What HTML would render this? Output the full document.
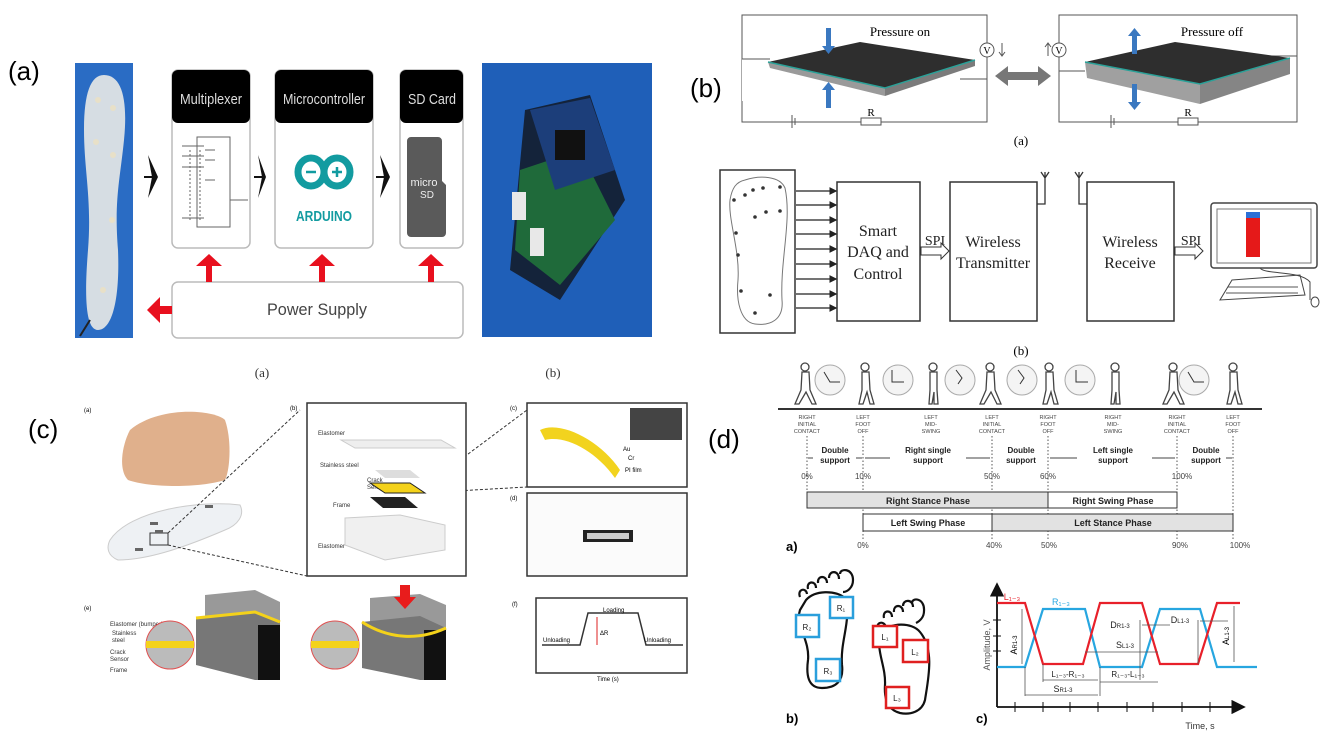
<!DOCTYPE html>
<html><head><meta charset="utf-8"><style>
html,body{margin:0;padding:0;background:#fff;}
svg{display:block;font-family:"Liberation Sans",sans-serif;}
.s{font-family:"Liberation Serif",serif;}
</style></head><body>
<svg width="1325" height="737" viewBox="0 0 1325 737" xmlns="http://www.w3.org/2000/svg">
<defs>
<marker id="ah" markerWidth="6" markerHeight="6" refX="5" refY="3" orient="auto"><path d="M0,0 L6,3 L0,6 z" fill="#222"/></marker>
<marker id="ahb" markerWidth="8" markerHeight="8" refX="7" refY="4" orient="auto"><path d="M0,0 L8,4 L0,8 z" fill="#111"/></marker>
</defs>

<!-- ===== (a) ===== -->
<text x="8" y="80" font-size="26">(a)</text>
<rect x="75" y="63" width="58" height="275" fill="#2a6cc4"/>
<path d="M104,75 C122,75 128,100 124,140 C120,180 114,200 118,250 C120,300 112,330 98,330 C86,330 84,300 88,250 C92,200 84,170 84,130 C84,95 90,75 104,75 z" fill="#d6dde3"/>
<g fill="#e8e0c8"><circle cx="98" cy="100" r="3"/><circle cx="113" cy="108" r="3"/><circle cx="96" cy="142" r="3"/><circle cx="113" cy="155" r="3"/><circle cx="112" cy="220" r="3"/><circle cx="103" cy="290" r="3"/></g>
<path d="M90,320 L80,336" stroke="#222" stroke-width="2"/>
<!-- arrows black -->
<g fill="#111"><path d="M148,155 L158,177 L148,198 L152,177 z"/><path d="M258,155 L266,177 L258,198 L262,177 z"/><path d="M380,155 L390,177 L380,198 L384,177 z"/></g>
<g stroke="#111" stroke-width="2"><line x1="144" y1="177" x2="156" y2="177"/><line x1="254" y1="177" x2="264" y2="177"/><line x1="376" y1="177" x2="388" y2="177"/></g>
<!-- boxes -->
<g stroke="#bbb" stroke-width="1.5" fill="#fff">
<rect x="172" y="70" width="78" height="178" rx="6"/>
<rect x="275" y="70" width="98" height="178" rx="6"/>
<rect x="400" y="70" width="63" height="178" rx="6"/>
<rect x="172" y="282" width="291" height="56" rx="6"/>
</g>
<g fill="#000"><rect x="172" y="70" width="78" height="53" rx="6"/><rect x="275" y="70" width="98" height="53" rx="6"/><rect x="400" y="70" width="63" height="53" rx="6"/></g>
<g fill="#ddd" font-size="15" text-anchor="middle"><text x="211" y="104" textLength="62" lengthAdjust="spacingAndGlyphs">Multiplexer</text><text x="324" y="104" textLength="82" lengthAdjust="spacingAndGlyphs">Microcontroller</text><text x="432" y="104" textLength="48" lengthAdjust="spacingAndGlyphs">SD Card</text></g>
<!-- mux drawing -->
<g stroke="#666" stroke-width="1" fill="none"><rect x="197" y="137" width="33" height="90"/><path d="M182,146h22M182,156h22M182,167h22M182,218h22M205,150h10M205,160h10M205,180h10M230,200h18" stroke-dasharray="0"/><path d="M190,150v70M200,150v70" stroke-dasharray="2,2"/></g>
<!-- arduino -->
<g stroke="#129ba0" stroke-width="7" fill="none"><ellipse cx="311" cy="172" rx="13" ry="14"/><ellipse cx="337" cy="172" rx="13" ry="14"/></g>
<g stroke="#129ba0" stroke-width="2.5"><line x1="306" y1="172" x2="316" y2="172"/><line x1="332" y1="172" x2="342" y2="172"/><line x1="337" y1="167" x2="337" y2="177"/></g>
<text x="324" y="221" font-size="15" font-weight="bold" fill="#129ba0" text-anchor="middle" textLength="56" lengthAdjust="spacingAndGlyphs">ARDUINO</text>
<!-- sd -->
<path d="M411,137 h27 a4,4 0 0 1 4,4 v40 l4,4 v48 a4,4 0 0 1 -4,4 h-31 a4,4 0 0 1 -4,-4 v-92 a4,4 0 0 1 4,-4z" fill="#5a5a5a"/>
<text x="424" y="186" font-size="11" fill="#eee" text-anchor="middle">micro</text><text x="427" y="198" font-size="10" fill="#eee" text-anchor="middle">SD</text>
<text x="317" y="315" font-size="17" fill="#444" text-anchor="middle" textLength="100" lengthAdjust="spacingAndGlyphs">Power Supply</text>
<!-- red arrows -->
<g fill="#e8101e"><path d="M196,266 L209,254 L222,266 L212,266 L212,282 L206,282 L206,266z"/><path d="M309,266 L322,254 L335,266 L325,266 L325,282 L319,282 L319,266z"/><path d="M418,266 L431,254 L444,266 L434,266 L434,282 L428,282 L428,266z"/><path d="M147,310 L160,297 L160,306 L172,306 L172,314 L160,314 L160,323z"/></g>
<text x="262" y="377" class="s" font-size="13" fill="#333" text-anchor="middle">(a)</text>
<!-- board photo -->
<rect x="482" y="63" width="170" height="274" fill="#1f5fb8"/>
<path d="M525,110 L590,95 L625,200 L560,300 L510,270 Z" fill="#14233a"/>
<path d="M520,170 L580,150 L615,220 L560,285 L515,250 Z" fill="#1f6a3a"/>
<path d="M530,110 L590,98 L615,170 L555,190 Z" fill="#1c3e7a"/>
<rect x="555" y="130" width="30" height="30" fill="#111"/>
<rect x="512" y="192" width="14" height="28" fill="#e8e8e8"/><rect x="530" y="228" width="14" height="28" fill="#e8e8e8"/>
<text x="553" y="377" class="s" font-size="13" fill="#333" text-anchor="middle">(b)</text>

<!-- ===== (b) ===== -->
<text x="690" y="97" font-size="26">(b)</text>
<g stroke="#555" stroke-width="1" fill="none">
<rect x="742" y="15" width="245" height="107"/>
<rect x="1059" y="15" width="238" height="107"/>
</g>
<rect x="742" y="59" width="42" height="42" fill="#fff"/>
<line x1="742" y1="59" x2="770" y2="59" stroke="#555"/><line x1="960" y1="79" x2="987" y2="79" stroke="#555"/>
<line x1="1059" y1="71" x2="1085" y2="71" stroke="#555"/><line x1="1270" y1="56" x2="1297" y2="56" stroke="#555"/>
<path d="M768,62 L860,42 L975,60 L885,88 Z" fill="#2e2e2e"/>
<path d="M768,62 L885,88 L885,96 L770,68 Z" fill="#9a9a9a"/>
<path d="M885,88 L975,60 L975,66 L885,96 Z" fill="#7b7b7b"/>
<path d="M768,62 L885,88 L975,60" stroke="#2aa198" stroke-width="1.5" fill="none"/>
<path d="M1085,62 L1175,42 L1290,58 L1200,84 Z" fill="#2e2e2e"/>
<path d="M1085,62 L1200,84 L1200,104 L1087,78 Z" fill="#a0a0a0"/>
<path d="M1200,84 L1290,58 L1290,74 L1200,104 Z" fill="#858585"/>
<path d="M1085,62 L1200,84 L1290,58" stroke="#2aa198" stroke-width="1.5" fill="none"/>
<g fill="#3a78c0"><rect x="826" y="28" width="5" height="20"/><path d="M822,46 h13 l-6.5,8z"/><rect x="826" y="88" width="5" height="20"/><path d="M822,90 h13 l-6.5,-8z"/>
<rect x="1132" y="34" width="5" height="20"/><path d="M1128,36 h13 l-6.5,-8z"/><rect x="1132" y="84" width="5" height="20"/><path d="M1128,102 h13 l-6.5,8z"/></g>
<path d="M995,76 L1008,66 L1008,72 L1038,72 L1038,66 L1051,76 L1038,86 L1038,80 L1008,80 L1008,86 Z" fill="#777"/>
<circle cx="987" cy="50" r="7" fill="#fff" stroke="#555"/><text x="987" y="54" class="s" font-size="10" text-anchor="middle">V</text>
<circle cx="1059" cy="50" r="7" fill="#fff" stroke="#555"/><text x="1059" y="54" class="s" font-size="10" text-anchor="middle">V</text>
<path d="M1002,43 v12 M999,52 l3,4 l3,-4" stroke="#555" fill="none"/><path d="M1048,44 v12 M1045,47 l3,-4 l3,4" stroke="#555" fill="none"/>
<g stroke="#555"><line x1="792" y1="115" x2="792" y2="128"/><line x1="795" y1="118" x2="795" y2="125"/><line x1="1111" y1="115" x2="1111" y2="128"/><line x1="1114" y1="118" x2="1114" y2="125"/></g>
<rect x="861" y="118" width="20" height="7" fill="#fff" stroke="#555"/><rect x="1178" y="118" width="20" height="7" fill="#fff" stroke="#555"/>
<text x="871" y="116" class="s" font-size="11" text-anchor="middle">R</text><text x="1188" y="116" class="s" font-size="11" text-anchor="middle">R</text>
<text x="900" y="36" class="s" font-size="13" text-anchor="middle">Pressure on</text><text x="1212" y="36" class="s" font-size="13" text-anchor="middle">Pressure off</text>
<text x="1021" y="145" class="s" font-size="13" text-anchor="middle">(a)</text>
<!-- block diagram -->
<g stroke="#333" stroke-width="1.5" fill="#fff">
<rect x="720" y="170" width="75" height="163"/>
<rect x="837" y="182" width="83" height="139"/>
<rect x="950" y="182" width="87" height="139"/>
<rect x="1087" y="182" width="87" height="139"/>
</g>
<path d="M745,180 C760,175 780,176 785,188 C792,220 780,260 782,300 C784,320 770,326 755,324 C740,322 736,300 738,280 C740,250 728,220 730,200 C732,188 736,182 745,180z" fill="none" stroke="#777"/>
<g fill="#333"><circle cx="734" cy="200" r="1.8"/><circle cx="745" cy="195" r="1.8"/><circle cx="753" cy="190" r="1.8"/><circle cx="763" cy="188" r="1.8"/><circle cx="780" cy="187" r="1.8"/><circle cx="755" cy="217" r="1.8"/><circle cx="766" cy="212" r="1.8"/><circle cx="780" cy="211" r="1.8"/><circle cx="736" cy="233" r="1.8"/><circle cx="738" cy="255" r="1.8"/><circle cx="741" cy="291" r="1.8"/><circle cx="770" cy="295" r="1.8"/><circle cx="755" cy="313" r="1.8"/></g>
<g stroke="#222" stroke-width="1.3" marker-end="url(#ah)">
<line x1="796" y1="191" x2="836" y2="191"/><line x1="796" y1="205" x2="836" y2="205"/><line x1="796" y1="220" x2="836" y2="220"/><line x1="796" y1="234" x2="836" y2="234"/><line x1="796" y1="249" x2="836" y2="249"/><line x1="796" y1="264" x2="836" y2="264"/><line x1="796" y1="279" x2="836" y2="279"/><line x1="796" y1="294" x2="836" y2="294"/><line x1="796" y1="308" x2="836" y2="308"/>
</g>
<g class="s" font-size="16" text-anchor="middle" fill="#222">
<text x="878" y="236">Smart</text><text x="878" y="257">DAQ and</text><text x="878" y="279">Control</text>
<text x="993" y="247">Wireless</text><text x="993" y="268">Transmitter</text>
<text x="1130" y="247">Wireless</text><text x="1130" y="268">Receive</text>
<text x="935" y="245" font-size="14">SPI</text><text x="1191" y="245" font-size="14">SPI</text>
</g>
<path d="M921,247 h20 v-4 l8,8 l-8,8 v-4 h-20z" fill="#fff" stroke="#333"/>
<path d="M1175,247 h20 v-4 l8,8 l-8,8 v-4 h-20z" fill="#fff" stroke="#333"/>
<path d="M1037,204 h8 v-28 M1041,172 l4,6 l4,-6 M1045,172 v6" stroke="#333" fill="none" stroke-width="1.3"/>
<path d="M1087,204 h-8 v-28 M1075,172 l4,6 l4,-6 M1079,172 v6" stroke="#333" fill="none" stroke-width="1.3"/>
<rect x="1211" y="203" width="106" height="65" rx="3" fill="#fff" stroke="#444" stroke-width="1.5"/>
<rect x="1217" y="209" width="94" height="54" fill="#fff" stroke="#777"/>
<path d="M1246,212 h14 v45 h-14 z" fill="#e51919"/><rect x="1246" y="212" width="14" height="6" fill="#2b6fd6"/>
<path d="M1232,280 L1300,275 L1305,295 L1220,300 Z" fill="#fff" stroke="#444"/>
<path d="M1228,287 h70 M1226,293 h72" stroke="#555"/>
<path d="M1260,268 C1265,275 1300,270 1310,282 L1310,300" stroke="#444" fill="none"/>
<ellipse cx="1315" cy="302" rx="4" ry="5" fill="#fff" stroke="#444"/>
<text x="1021" y="355" class="s" font-size="13" text-anchor="middle">(b)</text>

<!-- ===== (c) ===== -->
<text x="28" y="438" font-size="26">(c)</text>
<text x="84" y="412" font-size="6">(a)</text>
<path d="M130,430 C160,405 215,410 225,420 C232,440 230,470 225,480 C200,488 150,488 128,480 C118,470 122,445 130,430z" fill="#e0b08c"/>
<path d="M110,540 C130,510 200,500 240,505 C245,515 238,525 225,530 C190,545 150,560 118,560 C108,556 106,548 110,540z" fill="#eef1f4" stroke="#ccc"/>
<rect x="150" y="533" width="18" height="12" fill="none" stroke="#333"/>
<g fill="#666"><rect x="150" y="522" width="8" height="3"/><rect x="135" y="548" width="8" height="3"/><rect x="205" y="505" width="8" height="3"/><rect x="155" y="530" width="8" height="3"/></g>
<g stroke="#333" stroke-dasharray="3,2" fill="none"><line x1="168" y1="533" x2="300" y2="410"/><line x1="168" y1="545" x2="307" y2="576"/><line x1="420" y1="490" x2="527" y2="410"/><line x1="420" y1="493" x2="527" y2="487"/></g>
<rect x="307" y="403" width="159" height="173" fill="#fff" stroke="#333" stroke-width="1.5"/>
<text x="290" y="410" font-size="6">(b)</text><text x="510" y="410" font-size="6">(c)</text><text x="510" y="500" font-size="6">(d)</text>
<g font-size="6" fill="#333"><text x="318" y="435">Elastomer</text><text x="320" y="467">Stainless steel</text><text x="367" y="482">Crack</text><text x="367" y="489">Sensor</text><text x="333" y="507">Frame</text><text x="318" y="548">Elastomer</text></g>
<path d="M341,440 L441,440 L455,448 L355,448 Z" fill="#eee" stroke="#ccc"/>
<path d="M375,470 L410,470 L420,478 L385,478 Z" fill="#ddd"/>
<path d="M370,483 L410,483 L425,493 L385,493 Z" fill="#f4d21a" stroke="#222"/>
<path d="M370,497 L405,497 L418,508 L383,508 Z" fill="#222"/>
<path d="M345,518 L400,515 L445,525 L445,550 L385,560 L345,545 Z" fill="#f0f0f0" stroke="#ccc"/>
<rect x="527" y="403" width="160" height="84" fill="#fff" stroke="#333" stroke-width="1.5"/>
<rect x="630" y="408" width="52" height="32" fill="#444"/>
<path d="M540,430 C560,420 600,440 620,470 L615,478 C595,450 565,435 545,440 Z" fill="#f2d31e"/>
<g font-size="6"><text x="623" y="451">Au</text><text x="628" y="460">Cr</text><text x="625" y="472">PI film</text></g>
<rect x="527" y="493" width="160" height="83" fill="#fbfbfb" stroke="#333" stroke-width="1.5"/>
<rect x="583" y="530" width="50" height="12" fill="#222"/><rect x="587" y="533" width="42" height="6" fill="#ccc"/>
<text x="84" y="610" font-size="6">(e)</text>
<g font-size="6" fill="#333"><text x="110" y="626">Elastomer (bumper)</text><text x="112" y="635">Stainless</text><text x="112" y="642">steel</text><text x="110" y="654">Crack</text><text x="110" y="661">Sensor</text><text x="110" y="672">Frame</text></g>
<path d="M205,595 L255,590 L280,602 L280,628 L230,633 L205,620 Z" fill="#999"/>
<path d="M196,618 L255,612 L280,622 L280,680 L255,680 L196,665 Z" fill="#777"/>
<rect x="258" y="625" width="22" height="55" fill="#111"/>
<path d="M196,618 L255,612 L280,622" stroke="#f4d21a" stroke-width="3" fill="none"/>
<circle cx="170" cy="645" r="24" fill="#bbb" stroke="#e05050"/><rect x="146" y="641" width="48" height="7" fill="#f4d21a"/>
<path d="M370,598 L420,594 L446,605 L446,630 L395,640 L370,625 Z" fill="#999"/>
<path d="M362,622 L420,616 L446,628 L446,680 L420,680 L362,668 Z" fill="#777"/>
<rect x="424" y="630" width="22" height="50" fill="#111"/>
<path d="M362,622 C390,640 420,640 446,628" stroke="#f4d21a" stroke-width="3" fill="none"/>
<path d="M400,585 h10 v12 h6 l-11,12 l-11,-12 h6 z" fill="#e81c1c"/>
<circle cx="335" cy="645" r="24" fill="#bbb" stroke="#e05050"/><rect x="311" y="641" width="48" height="7" fill="#f4d21a"/>
<text x="512" y="606" font-size="6">(f)</text>
<rect x="536" y="598" width="151" height="75" fill="#fff" stroke="#333" stroke-width="1.5"/>
<path d="M542,645 h38 l8,-32 h50 l8,32 h37" stroke="#333" stroke-width="1.5" fill="none"/>
<line x1="597" y1="617" x2="597" y2="645" stroke="#d22" stroke-width="1"/>
<g font-size="6"><text x="543" y="642">Unloading</text><text x="644" y="642">Unloading</text><text x="603" y="612">Loading</text><text x="600" y="635">ΔR</text><text x="597" y="681">Time (s)</text></g>

<!-- ===== (d) ===== -->
<text x="708" y="448" font-size="26">(d)</text>
<line x1="778" y1="409" x2="1262" y2="409" stroke="#333" stroke-width="2"/>
<!-- people -->
<g fill="#fff" stroke="#444" stroke-width="1.3">
<g transform="translate(800,362)"><circle cx="5" cy="5" r="4"/><path d="M2,10 h7 l1,18 l6,14 h-4 l-6,-12 l-7,12 h-4 l6,-14z"/></g>
<g transform="translate(860,362)"><circle cx="5" cy="5" r="4"/><path d="M2,10 h7 l1,18 l4,14 h-4 l-3,-12 l-4,12 h-4 l3,-14z"/></g>
<g transform="translate(928,362)"><circle cx="5" cy="5" r="4"/><path d="M2,10 h7 l0,18 l1,14 h-4 l0,-12 l-2,12 h-3 l1,-14z"/></g>
<g transform="translate(985,362)"><circle cx="5" cy="5" r="4"/><path d="M2,10 h7 l1,18 l6,14 h-4 l-6,-12 l-7,12 h-4 l6,-14z"/></g>
<g transform="translate(1044,362)"><circle cx="5" cy="5" r="4"/><path d="M2,10 h7 l1,18 l4,14 h-4 l-3,-12 l-4,12 h-4 l3,-14z"/></g>
<g transform="translate(1110,362)"><circle cx="5" cy="5" r="4"/><path d="M2,10 h7 l0,18 l1,14 h-4 l0,-12 l-2,12 h-3 l1,-14z"/></g>
<g transform="translate(1168,362)"><circle cx="5" cy="5" r="4"/><path d="M2,10 h7 l1,18 l6,14 h-4 l-6,-12 l-7,12 h-4 l6,-14z"/></g>
<g transform="translate(1228,362)"><circle cx="5" cy="5" r="4"/><path d="M2,10 h7 l1,18 l4,14 h-4 l-3,-12 l-4,12 h-4 l3,-14z"/></g>
</g>
<g fill="#f4f4f4" stroke="#aaa"><circle cx="830" cy="380" r="15"/><circle cx="898" cy="380" r="15"/><circle cx="960" cy="380" r="15"/><circle cx="1022" cy="380" r="15"/><circle cx="1080" cy="380" r="15"/><circle cx="1194" cy="380" r="15"/></g>
<g stroke="#333" fill="none"><path d="M824,372 l6,10 h10"/><path d="M892,370 v12 h12"/><path d="M956,370 l6,8 l-4,6"/><path d="M1018,370 l6,8 l-4,6"/><path d="M1076,370 v12 h12"/><path d="M1188,372 l6,10 h10"/></g>
<g font-size="5.5" fill="#444" text-anchor="middle">
<text x="807" y="419">RIGHT</text><text x="807" y="426">INITIAL</text><text x="807" y="433">CONTACT</text>
<text x="863" y="419">LEFT</text><text x="863" y="426">FOOT</text><text x="863" y="433">OFF</text>
<text x="931" y="419">LEFT</text><text x="931" y="426">MID-</text><text x="931" y="433">SWING</text>
<text x="992" y="419">LEFT</text><text x="992" y="426">INITIAL</text><text x="992" y="433">CONTACT</text>
<text x="1048" y="419">RIGHT</text><text x="1048" y="426">FOOT</text><text x="1048" y="433">OFF</text>
<text x="1113" y="419">RIGHT</text><text x="1113" y="426">MID-</text><text x="1113" y="433">SWING</text>
<text x="1177" y="419">RIGHT</text><text x="1177" y="426">INITIAL</text><text x="1177" y="433">CONTACT</text>
<text x="1233" y="419">LEFT</text><text x="1233" y="426">FOOT</text><text x="1233" y="433">OFF</text>
</g>
<g stroke="#555" stroke-dasharray="1.5,2"><line x1="807" y1="436" x2="807" y2="492"/><line x1="863" y1="436" x2="863" y2="540"/><line x1="992" y1="436" x2="992" y2="540"/><line x1="1048" y1="436" x2="1048" y2="540"/><line x1="1177" y1="436" x2="1177" y2="540"/><line x1="1233" y1="436" x2="1233" y2="540"/></g>
<g font-size="8" font-weight="bold" text-anchor="middle" fill="#222">
<text x="835" y="453">Double</text><text x="835" y="463">support</text>
<text x="928" y="453">Right single</text><text x="928" y="463">support</text>
<text x="1021" y="453">Double</text><text x="1021" y="463">support</text>
<text x="1113" y="453">Left single</text><text x="1113" y="463">support</text>
<text x="1206" y="453">Double</text><text x="1206" y="463">support</text>
</g>
<g stroke="#444" stroke-width="1"><line x1="808" y1="458" x2="813" y2="458"/><line x1="856" y1="458" x2="862" y2="458"/><line x1="865" y1="458" x2="890" y2="458"/><line x1="966" y1="458" x2="990" y2="458"/><line x1="1050" y1="458" x2="1077" y2="458"/><line x1="1152" y1="458" x2="1175" y2="458"/><line x1="1226" y1="458" x2="1232" y2="458"/></g>
<g font-size="8" fill="#444" text-anchor="middle"><text x="807" y="479">0%</text><text x="863" y="479">10%</text><text x="992" y="479">50%</text><text x="1048" y="479">60%</text><text x="1182" y="479">100%</text>
<text x="863" y="548">0%</text><text x="994" y="548">40%</text><text x="1049" y="548">50%</text><text x="1180" y="548">90%</text><text x="1240" y="548">100%</text></g>
<g stroke="#333" stroke-width="1">
<rect x="807" y="492" width="241" height="16" fill="#e2e2e2"/>
<rect x="1048" y="492" width="129" height="16" fill="#fff"/>
<rect x="863" y="514" width="129" height="17" fill="#fff"/>
<rect x="992" y="514" width="241" height="17" fill="#e2e2e2"/>
</g>
<g font-size="9" font-weight="bold" text-anchor="middle" fill="#222"><text x="928" y="504">Right Stance Phase</text><text x="1113" y="504">Right Swing Phase</text><text x="928" y="526">Left Swing Phase</text><text x="1113" y="526">Left Stance Phase</text></g>
<text x="786" y="551" font-size="13" font-weight="bold">a)</text>
<!-- feet -->
<g stroke="#111" stroke-width="2.2" fill="none">
<path d="M806,600 C815,590 835,590 845,598 C852,620 840,640 842,665 C844,682 835,688 822,688 C808,688 806,675 808,660 C810,640 795,625 800,610 Z"/>
<path d="M800,597 c-3,-8 6,-10 7,-3 M808,589 c-2,-8 8,-9 8,-1 M818,583 c-1,-8 9,-8 9,0 M829,578 c0,-8 10,-8 10,1 M840,574 c0,-6 13,-6 13,6 c0,8 -6,12 -10,12"/>
<path d="M881,633 C890,622 912,622 920,632 C935,650 928,680 925,700 C922,712 910,715 900,713 C888,710 884,700 885,685 C886,665 875,650 881,633 Z"/>
<path d="M878,630 c-3,-8 6,-10 8,-3 M884,618 c-2,-8 8,-9 8,-1 M894,612 c-1,-8 9,-8 9,0 M903,606 c0,-7 10,-7 10,1 M912,603 c0,-6 13,-5 12,8 c0,6 -4,10 -8,12"/>
</g>
<g fill="#fff" stroke="#2a9fdc" stroke-width="2.5"><rect x="830" y="597" width="23" height="21"/><rect x="796" y="615" width="23" height="22"/><rect x="816" y="659" width="24" height="22"/></g>
<g fill="#fff" stroke="#e02020" stroke-width="2.5"><rect x="873" y="626" width="24" height="21"/><rect x="903" y="640" width="25" height="22"/><rect x="886" y="687" width="23" height="21"/></g>
<g font-size="8" text-anchor="middle" fill="#222"><text x="841" y="611">R₁</text><text x="807" y="630">R₂</text><text x="828" y="674">R₃</text><text x="885" y="640">L₁</text><text x="915" y="655">L₂</text><text x="897" y="701">L₃</text></g>
<text x="786" y="723" font-size="13" font-weight="bold">b)</text>
<!-- chart -->
<g stroke="#111" stroke-width="1.8" fill="none"><line x1="997" y1="707" x2="997" y2="584" marker-end="url(#ahb)"/><line x1="997" y1="707" x2="1244" y2="707" marker-end="url(#ahb)"/></g>
<g stroke="#111" stroke-width="1"><line x1="1015" y1="702" x2="1015" y2="712"/><line x1="1043" y1="702" x2="1043" y2="712"/><line x1="1070" y1="702" x2="1070" y2="712"/><line x1="1098" y1="702" x2="1098" y2="712"/><line x1="1127" y1="702" x2="1127" y2="712"/><line x1="1153" y1="702" x2="1153" y2="712"/><line x1="1182" y1="702" x2="1182" y2="712"/><line x1="1210" y1="702" x2="1210" y2="712"/>
<line x1="993" y1="620" x2="1001" y2="620"/><line x1="993" y1="636" x2="1001" y2="636"/><line x1="993" y1="651" x2="1001" y2="651"/></g>
<polyline points="997,667 1025,667 1043,609 1085,609 1100,667 1142,667 1160,609 1200,609 1217,667 1257,667" fill="none" stroke="#27a6e0" stroke-width="2.2"/>
<polyline points="997,603 1025,603 1043,664 1083,664 1100,603 1142,603 1160,664 1198,664 1217,603 1240,603" fill="none" stroke="#e8202a" stroke-width="2.2"/>
<g stroke="#555" stroke-width="0.8" fill="none">
<line x1="1022" y1="609" x2="1022" y2="664"/><line x1="1025" y1="667" x2="1025" y2="696"/><line x1="1100" y1="667" x2="1100" y2="696"/><line x1="1043" y1="664" x2="1043" y2="682"/><line x1="1100" y1="682" x2="1158" y2="682"/>
<line x1="1043" y1="680" x2="1098" y2="680"/><line x1="1025" y1="695" x2="1098" y2="695"/><line x1="1085" y1="652" x2="1158" y2="652"/><line x1="1142" y1="625" x2="1170" y2="625"/><line x1="1200" y1="621" x2="1228" y2="621"/><line x1="1234" y1="606" x2="1234" y2="662"/>
<line x1="1140" y1="620" x2="1140" y2="680"/><line x1="1198" y1="620" x2="1198" y2="664"/>
</g>
<g font-size="9" text-anchor="middle">
<text x="1012" y="600" fill="#e8202a">L₁₋₃</text><text x="1061" y="605" fill="#27a6e0">R₁₋₃</text>
<text x="1120" y="628" fill="#222">D<tspan font-size="6">R1-3</tspan></text><text x="1180" y="623" fill="#222">D<tspan font-size="6">L1-3</tspan></text>
<text x="1125" y="648" fill="#222">S<tspan font-size="6">L1-3</tspan></text>
<text x="1068" y="677" fill="#222" font-size="8">L₁₋₃-R₁₋₃</text><text x="1128" y="677" fill="#222" font-size="8">R₁₋₃-L₁₋₃</text>
<text x="1063" y="692" fill="#222">S<tspan font-size="6">R1-3</tspan></text>
<text x="1200" y="729" fill="#333">Time, s</text>
</g>
<text transform="translate(1017,645) rotate(-90)" font-size="9" text-anchor="middle">A<tspan font-size="6">R1-3</tspan></text>
<text transform="translate(1229,636) rotate(-90)" font-size="9" text-anchor="middle">A<tspan font-size="6">L1-3</tspan></text>
<text transform="translate(990,645) rotate(-90)" font-size="9" fill="#555" text-anchor="middle">Amplitude, V</text>
<text x="976" y="723" font-size="13" font-weight="bold">c)</text>
</svg>
</body></html>
